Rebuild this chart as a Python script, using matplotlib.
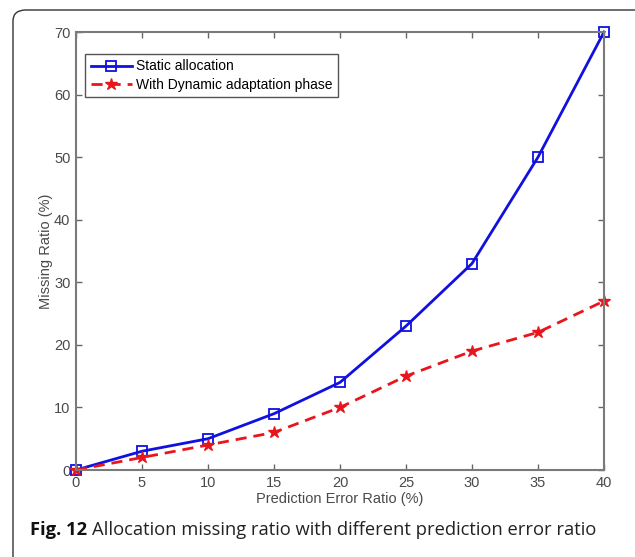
import matplotlib.pyplot as plt
from matplotlib.patches import FancyBboxPatch

# data
err_ratio = [0, 5, 10, 15, 20, 25, 30, 35, 40]
static_alloc = [0, 3, 5, 9, 14, 23, 33, 50, 70]
dynamic_adapt = [0, 2, 4, 6, 10, 15, 19, 22, 27]
xticks = [0, 5, 10, 15, 20, 25, 30, 35, 40]
yticks = [0, 10, 20, 30, 40, 50, 60, 70]

plt.rcParams['font.family'] = ['Liberation Sans', 'DejaVu Sans']

fig = plt.figure(figsize=(6.35, 5.57), dpi=100)

# rounded outer frame, cut off at right and bottom
frame = FancyBboxPatch((13 / 635, -0.2), 1.2, 1.2 - 10 / 557,
                       boxstyle='round,pad=0,rounding_size=0.02',
                       transform=fig.transFigure, facecolor='none',
                       edgecolor='#333333', linewidth=1.0)
fig.patches.append(frame)

ax = fig.add_axes([76 / 635, 1 - 470 / 557, 528 / 635, 438 / 557])

ax.plot(err_ratio, static_alloc, color='#1010e0', linestyle='-', linewidth=2.0,
        marker='s', markersize=7, markerfacecolor='none', clip_on=False,
        markeredgecolor='#1010e0', markeredgewidth=1.3, label='Static allocation')
ax.plot(err_ratio, dynamic_adapt, color='#e8161c', linestyle='--', linewidth=2.0,
        dashes=(4, 2.5), marker='*', markersize=9, markerfacecolor='#e8161c',
        clip_on=False, markeredgecolor='#e8161c', label='With Dynamic adaptation phase')

ax.set_xlim(0, 40)
ax.set_ylim(0, 70)
ax.set_xticks(xticks)
ax.set_yticks(yticks)
ax.tick_params(direction='in', length=4, width=1, color='#666666',
               labelcolor='#4a4a4a', labelsize=10.5, top=True, right=True, pad=4)
for s in ax.spines.values():
    s.set_color('#7a7a7a')
    s.set_linewidth(1.5)

ax.set_xlabel('Prediction Error Ratio (%)', fontsize=10.5, color='#4a4a4a', labelpad=2)
ax.set_ylabel('Missing Ratio (%)', fontsize=10.5, color='#4a4a4a', labelpad=1)

leg = ax.legend(loc='upper left', bbox_to_anchor=(0.017, 0.95), fontsize=10,
                fancybox=False, framealpha=1, borderpad=0.4, labelspacing=0.3,
                handlelength=3.0, handletextpad=0.3, borderaxespad=0)
leg.get_frame().set_edgecolor('#555555')
leg.get_frame().set_linewidth(1.0)

# caption: bold part then regular part
fig.canvas.draw()
t1 = fig.text(30 / 635, 1 - 530 / 557, 'Fig. 12', fontsize=13.2, fontweight='bold',
              family=['Open Sans', 'DejaVu Sans'], va='center', color='#111111')
fig.canvas.draw()
bb = t1.get_window_extent()
x2 = (bb.x1 + 5) / fig.bbox.width
fig.text(x2, 1 - 530 / 557, 'Allocation missing ratio with different prediction error ratio',
         fontsize=13.2, family=['Open Sans', 'DejaVu Sans'], va='center', color='#222222')

fig.savefig('out.png', dpi=100)
